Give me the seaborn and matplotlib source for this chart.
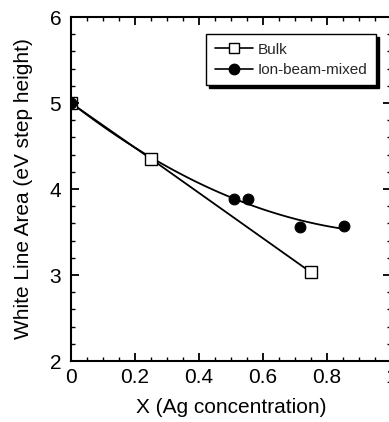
import numpy as np
import matplotlib
matplotlib.use("Agg")
import matplotlib.pyplot as plt
from matplotlib.lines import Line2D
from matplotlib.ticker import MultipleLocator
import seaborn as sns

sns.set_theme(style="ticks")
plt.rcParams['font.family'] = ['Liberation Sans', 'DejaVu Sans']

bulk_x = [0.0, 0.25, 0.75]
bulk_y = [5.0, 4.35, 3.03]
ion_x = [0.0, 0.509, 0.553, 0.716, 0.853]
ion_y = [5.0, 3.88, 3.88, 3.56, 3.57]

fig = plt.figure(figsize=(3.89, 4.22), dpi=100)
ax = fig.add_axes([0.1825, 0.1445, 0.823, 0.8152])

# ion-beam-mixed fitted curve (quadratic fit of its points)
coef = np.polyfit(ion_x, ion_y, 2)
fx = np.linspace(min(ion_x), max(ion_x), 100)
fy = np.polyval(coef, fx)
sns.lineplot(x=fx, y=fy, ax=ax, color='black', lw=1.3, sort=False)

sns.lineplot(x=bulk_x, y=bulk_y, ax=ax, color='black', lw=1.3, marker='s',
             markersize=8, markerfacecolor='white', markeredgecolor='black',
             markeredgewidth=1.0, sort=False, zorder=4)
sns.scatterplot(x=ion_x, y=ion_y, ax=ax, color='black', marker='o', s=60,
                edgecolor='black', linewidth=0.8, zorder=5)

ax.set_xlim(0, 1)
ax.set_ylim(2, 6)
ax.set_xticks([0, 0.2, 0.4, 0.6, 0.8, 1.0])
ax.set_xticklabels(['0', '0.2', '0.4', '0.6', '0.8', '1'])
ax.set_yticks([2, 3, 4, 5, 6])
ax.xaxis.set_minor_locator(MultipleLocator(0.05))
ax.yaxis.set_minor_locator(MultipleLocator(0.2))
ax.tick_params(which='both', direction='in', top=True, right=True, colors='black')
ax.tick_params(which='major', length=6, width=1.3, labelsize=15)
ax.tick_params(axis='y', which='major', pad=7)
ax.tick_params(axis='x', which='major', pad=5)
ax.tick_params(which='minor', length=3, width=1.0)
for s in ax.spines.values():
    s.set_linewidth(1.5)
    s.set_color('black')

ax.set_xlabel('X (Ag concentration)', fontsize=15, color='black', labelpad=8)
ax.set_ylabel('White Line Area (eV step height)', fontsize=15, color='black', labelpad=12)

handles = [
    Line2D([], [], color='black', lw=1.2, marker='s', markersize=7.5,
           markerfacecolor='white', markeredgecolor='black'),
    Line2D([], [], color='black', lw=1.2, marker='o', markersize=7.5,
           markerfacecolor='black', markeredgecolor='black'),
]
leg = ax.legend(handles, ['Bulk', 'Ion-beam-mixed'], loc='upper right',
                bbox_to_anchor=(0.952, 0.95), fontsize=11, frameon=True,
                fancybox=False, edgecolor='black', handlelength=2.5,
                handletextpad=0.3, borderpad=0.55, labelspacing=0.42,
                borderaxespad=0.0,
                shadow={'color': 'black', 'alpha': 1})
leg.get_frame().set_linewidth(1.0)

fig.savefig('out.png', dpi=100)
